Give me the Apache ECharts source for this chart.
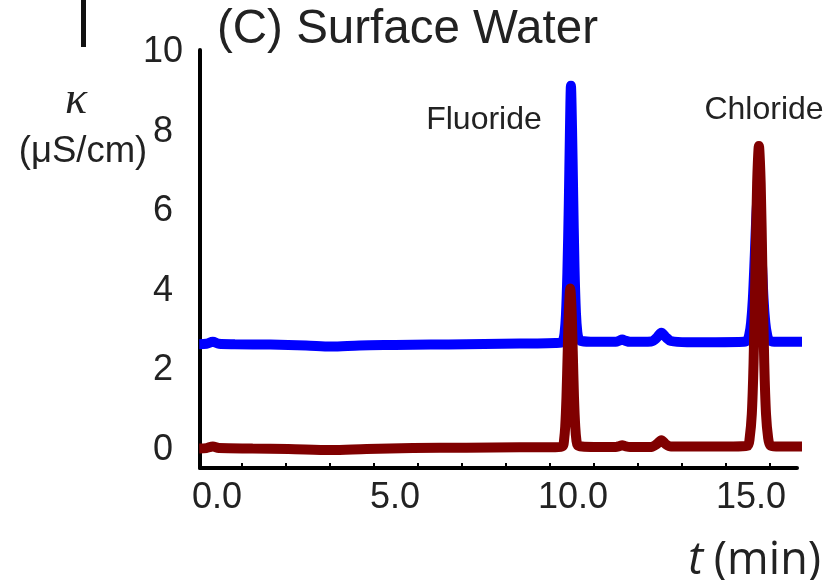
<!DOCTYPE html>
<html>
<head>
<meta charset="utf-8">
<script src="https://cdn.jsdelivr.net/npm/echarts@6/dist/echarts.min.js"></script>
<style>html,body{margin:0;padding:0;background:#fff}#c{width:827px;height:580px}</style>
</head>
<body>
<div id="c"></div>
<script>
// ---- data (t in min, kappa in uS/cm) ----
const blueTrace = [
  [-0.50,2.66],[-0.30,2.67],[-0.12,2.72],[0.05,2.67],[0.50,2.66],[1.50,2.65],[2.50,2.63],[3.20,2.60],[4.00,2.63],[5.00,2.64],
  [6.00,2.65],[7.00,2.66],[8.00,2.67],[9.00,2.68],[9.50,2.69],[9.66,2.70],[9.72,2.76],[9.76,2.93],[9.80,3.40],[9.84,4.45],
  [9.88,6.20],[9.91,7.90],[9.94,9.15],[9.97,8.10],[10.00,6.55],[10.04,4.60],[10.08,3.45],[10.12,2.95],[10.16,2.80],[10.24,2.74],
  [10.60,2.72],[11.20,2.72],[11.30,2.75],[11.38,2.78],[11.46,2.75],[11.60,2.72],[12.20,2.73],[12.35,2.82],[12.48,2.95],[12.60,2.84],
  [12.75,2.74],[13.20,2.71],[14.00,2.71],[14.80,2.72],[14.90,2.77],[14.95,2.90],[15.00,3.20],[15.05,3.80],[15.10,4.80],[15.15,5.90],
  [15.20,6.50],[15.25,5.90],[15.30,4.80],[15.35,3.80],[15.40,3.20],[15.45,2.90],[15.50,2.77],[15.65,2.72],[16.00,2.72],[16.52,2.72]
];
const redTrace = [
  [-0.50,0.04],[-0.30,0.05],[-0.12,0.09],[0.05,0.05],[1.00,0.04],[2.00,0.03],[3.20,0.00],[4.20,0.03],[5.50,0.05],[7.00,0.06],
  [8.50,0.07],[9.50,0.07],[9.71,0.10],[9.745,0.24],[9.78,0.60],[9.815,1.34],[9.85,2.50],[9.885,3.58],[9.92,4.06],[9.955,3.58],
  [9.99,2.50],[10.025,1.34],[10.06,0.60],[10.095,0.24],[10.13,0.12],[10.25,0.09],[10.60,0.08],[11.20,0.08],[11.30,0.10],[11.38,0.12],
  [11.46,0.10],[11.60,0.08],[12.20,0.08],[12.35,0.15],[12.48,0.25],[12.60,0.15],[12.75,0.09],[13.50,0.09],[14.50,0.09],[14.90,0.11],
  [14.96,0.30],[15.02,0.90],[15.07,2.20],[15.12,4.40],[15.17,6.70],[15.22,7.64],[15.27,6.70],[15.32,4.40],[15.37,2.20],[15.42,0.90],
  [15.48,0.30],[15.54,0.12],[15.70,0.09],[16.00,0.09],[16.52,0.09]
];
const xTickLabels = [0, 5, 10, 15];
const yTickLabels = [0, 2, 4, 6, 8, 10];
const xMinorTicks = [-0.53, 0.70, 1.94, 3.17, 4.41, 5.64, 6.88, 8.11, 9.35, 10.58, 11.82, 13.05, 14.29, 15.52];
const peakNames = ['Fluoride', 'Chloride'];
const titleText = '(C) Surface Water';

const FONT = '"Liberation Sans", Arial, sans-serif';
const chart = echarts.init(document.getElementById('c'));
chart.setOption({
  animation: false,
  backgroundColor: '#fff',
  grid: { left: 200, right: 30, top: 50, bottom: 112, containLabel: false, outerBoundsMode: 'none' },
  xAxis: {
    type: 'value', min: -0.48, max: 16.29,
    axisLine: { show: true, onZero: false, lineStyle: { color: '#000', width: 4 } },
    axisTick: { show: true, inside: true, length: 5, customValues: xMinorTicks, lineStyle: { color: '#000', width: 2 } },
    axisLabel: { customValues: xTickLabels, formatter: v => v.toFixed(1), fontFamily: FONT, fontSize: 36, color: '#222', margin: 12 },
    splitLine: { show: false }
  },
  yAxis: {
    type: 'value', min: -0.45, max: 10.05,
    axisLine: { show: true, onZero: false, lineStyle: { color: '#000', width: 4 } },
    axisTick: { show: false },
    axisLabel: { customValues: yTickLabels, fontFamily: FONT, fontSize: 36, color: '#222', margin: 37, align: 'center' },
    splitLine: { show: false }
  },
  series: [
    { type: 'line', data: blueTrace, showSymbol: false, smooth: 0.3, clip: false,
      lineStyle: { color: '#0000ff', width: 10 }, z: 2 },
    { type: 'line', data: redTrace, showSymbol: false, smooth: 0.3, clip: false,
      lineStyle: { color: '#800000', width: 10 }, z: 3 }
  ],
  graphic: [
    { type: 'rect', shape: { x: 81, y: 0, width: 5, height: 47 }, style: { fill: '#111' } },
    { type: 'text', x: 217, y: 30, style: { text: titleText, font: '47.5px ' + FONT, fill: '#222', align: 'left', verticalAlign: 'middle' } },
    { type: 'text', x: 76, y: 101, style: { text: 'κ', font: 'italic 46px "Liberation Serif", serif', fill: '#222', align: 'center', verticalAlign: 'middle' } },
    { type: 'text', x: 83, y: 152, style: { text: '(μS/cm)', font: '36.5px ' + FONT, fill: '#222', align: 'center', verticalAlign: 'middle' } },
    { type: 'text', x: 484, y: 120, style: { text: peakNames[0], font: '32px ' + FONT, fill: '#222', align: 'center', verticalAlign: 'middle' } },
    { type: 'text', x: 764, y: 110, style: { text: peakNames[1], font: '32px ' + FONT, fill: '#222', align: 'center', verticalAlign: 'middle' } },
    { type: 'text', x: 821, y: 561, style: { text: '(min)', font: '45px "Open Sans", sans-serif', fill: '#222', align: 'right', verticalAlign: 'middle' } },
    { type: 'text', x: 703, y: 561, style: { text: 't', font: 'italic 45px "Open Sans", sans-serif', fill: '#222', align: 'right', verticalAlign: 'middle' } }
  ]
});
</script>
</body>
</html>
